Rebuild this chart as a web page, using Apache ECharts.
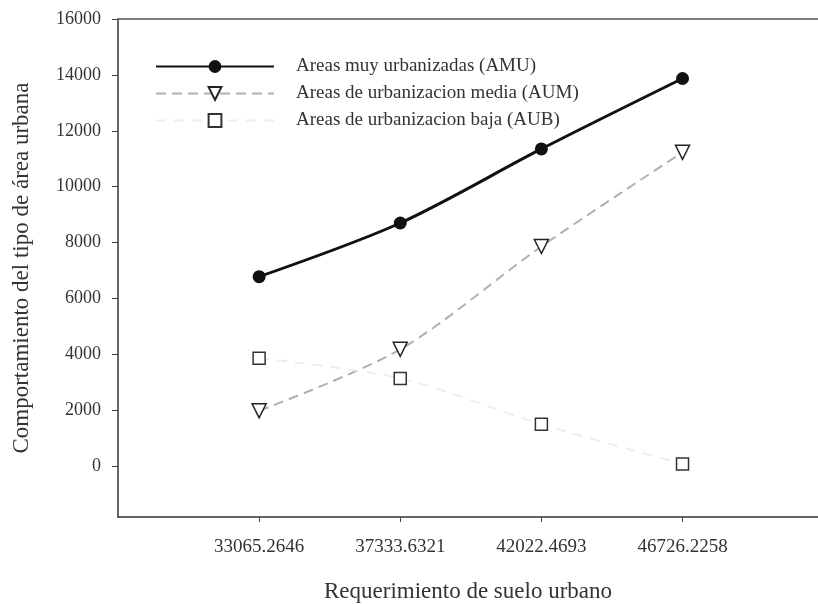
<!DOCTYPE html>
<html>
  <head>
    <meta charset="utf-8" />
    <title>ECharts</title>
    <style type="text/css">
      html,
      body {
        margin: 0;
        background: #fff;
      }
    </style>
    <script src="https://cdn.jsdelivr.net/npm/echarts@6/dist/echarts.min.js"></script>
  </head>
  <body>
    <div id="chart" style="width: 818px; height: 604px"></div>
    <script type="text/javascript">
      // categorias del eje x (requerimiento de suelo urbano)
      var categories = ["33065.2646", "37333.6321", "42022.4693", "46726.2258"];
      var amu = [6780, 8700, 11350, 13870];
      var aum = [1980, 4180, 7860, 11230];
      var aub = [3860, 3140, 1500, 80];
      var yTicks = [0, 2000, 4000, 6000, 8000, 10000, 12000, 14000, 16000];
      var xPos = [1, 2, 3, 4];

      var chart = echarts.init(document.getElementById("chart"));
      var font = "'Liberation Serif', 'DejaVu Serif', serif";

      function pts(arr) {
        return arr.map((v, i) => [xPos[i], v]);
      }

      var option = {
        animation: false,
        backgroundColor: "#fff",
        textStyle: { fontFamily: font },
        grid: { left: 118, right: 0, top: 19, bottom: 87, containLabel: false, outerBoundsMode: "none" },
        legend: {
          orient: "vertical",
          left: 155,
          top: 57,
          padding: 0,
          itemWidth: 118,
          itemHeight: 16,
          itemGap: 8,
          textStyle: { fontFamily: font, fontSize: 19, color: "#333", padding: [0, 0, 0, 17] },
          data: [
            "Areas muy urbanizadas (AMU)",
            "Areas de urbanizacion media (AUM)",
            "Areas de urbanizacion baja (AUB)",
          ],
        },
        xAxis: [
          {
            type: "value",
            min: 0,
            max: 4.96,
            name: "Requerimiento de suelo urbano",
            nameLocation: "middle",
            nameGap: 63,
            nameTextStyle: { fontFamily: font, fontSize: 23, color: "#333" },
            splitLine: { show: false },
            axisLine: { onZero: false, lineStyle: { color: "#333", width: 1.5 } },
            axisTick: { customValues: xPos, length: 5, lineStyle: { color: "#444" } },
            axisLabel: {
              customValues: xPos,
              margin: 21,
              fontFamily: font,
              fontSize: 19,
              color: "#333",
              formatter: (v) => categories[Math.round(v) - 1],
            },
          },
          {
            type: "value",
            position: "top",
            min: 0,
            max: 4.96,
            splitLine: { show: false },
            axisLine: { show: true, onZero: false, lineStyle: { color: "#555", width: 1.5 } },
            axisTick: { show: false },
            axisLabel: { show: false },
          },
        ],
        yAxis: {
          type: "value",
          min: -1820,
          max: 16000,
          name: "Comportamiento del tipo de área urbana",
          nameLocation: "middle",
          nameGap: 85,
          nameTextStyle: { fontFamily: font, fontSize: 23, color: "#333" },
          splitLine: { show: false },
          axisLine: { show: true, onZero: false, lineStyle: { color: "#333", width: 1.5 } },
          axisTick: { customValues: yTicks, length: 6, lineStyle: { color: "#444" } },
          axisLabel: {
            customValues: yTicks,
            margin: 17,
            fontFamily: font,
            fontSize: 18,
            color: "#333",
            formatter: (v) => String(v),
          },
        },
        series: [
          {
            name: "Areas muy urbanizadas (AMU)",
            type: "line",
            data: pts(amu),
            smooth: 0.3,
            symbol: "circle",
            symbolSize: 13,
            itemStyle: { color: "#111" },
            lineStyle: { color: "#111", width: 3 },
          },
          {
            name: "Areas de urbanizacion media (AUM)",
            type: "line",
            data: pts(aum),
            smooth: 0.3,
            symbol: "triangle",
            symbolRotate: 180,
            symbolSize: 14,
            itemStyle: { color: "#fff", borderColor: "#222", borderWidth: 1.5 },
            lineStyle: { color: "#b0b0b0", width: 2, type: [10, 6] },
          },
          {
            name: "Areas de urbanizacion baja (AUB)",
            type: "line",
            data: pts(aub),
            smooth: 0.3,
            symbol: "rect",
            symbolSize: 12,
            itemStyle: { color: "#fff", borderColor: "#333", borderWidth: 1.5 },
            lineStyle: { color: "#eee", width: 2, type: [10, 8] },
          },
        ],
      };
      chart.setOption(option);
    </script>
  </body>
</html>
